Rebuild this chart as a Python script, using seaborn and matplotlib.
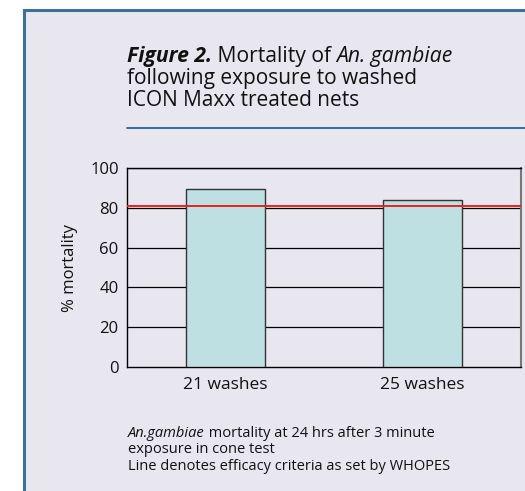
import matplotlib
matplotlib.use("Agg")
import matplotlib.pyplot as plt
import seaborn as sns
import pandas as pd
from matplotlib.patches import Rectangle
from matplotlib.lines import Line2D

categories = ["21 washes", "25 washes"]
mortality = [89.5, 84]
whopes_criterion = 81
yticks = [0, 20, 40, 60, 80, 100]

sns.set_theme(style="white")
plt.rcParams['font.family'] = ['Open Sans', 'DejaVu Sans']

W, H = 525, 491
fig = plt.figure(figsize=(W / 100, H / 100), dpi=100)
fig.patch.set_facecolor("white")

panel_bg = "#e8e7ef"
border = "#3f6f98"
# panel frame
fig.patches.append(Rectangle((24 / W, -0.05), 1.2, (H - 10) / H + 0.05, transform=fig.transFigure,
                             facecolor=panel_bg, edgecolor=border, linewidth=2.2, zorder=-5))

ax = fig.add_axes([127 / W, 1 - 367 / H, (521 - 127) / W, (367 - 168) / H])
ax.set_zorder(2)
ax.set_facecolor(panel_bg)

df = pd.DataFrame({"cat": categories, "val": mortality})
sns.barplot(data=df, x="cat", y="val", ax=ax, color="#bfe0e2", width=0.4,
            edgecolor="#333333", linewidth=1.0, saturation=1, zorder=3)
ax.set_ylim(0, 100)
ax.set_xlim(-0.5, 1.5)
ax.set_yticks(yticks)
ax.set_yticklabels([str(v) for v in yticks], fontsize=12, color="#111111")
for v in yticks[1:]:
    ax.axhline(v, color="black", linewidth=0.9, zorder=1)
ax.axhline(whopes_criterion, color="#e8231f", linewidth=1.4, zorder=4)

ax.set_xticks([0, 1])
ax.set_xticklabels(categories, fontsize=12.5, color="#111111")
ax.set_xticks([-0.5, 0.5, 1.5], minor=True)
ax.tick_params(axis="x", which="major", length=0, pad=7)
ax.tick_params(axis="x", which="minor", length=4, width=1, color="black", direction="out")
ax.tick_params(axis="y", which="major", length=0, pad=6)
ax.set_xlabel("")
ax.set_ylabel("% mortality", fontsize=12, color="#111111", labelpad=9)
for s in ["left", "bottom", "top"]:
    ax.spines[s].set_visible(True)
    ax.spines[s].set_color("black")
    ax.spines[s].set_linewidth(1.0)
ax.spines["right"].set_visible(True)
ax.spines["right"].set_color("#777777")
ax.spines["right"].set_linewidth(1.5)

# title with mixed styles
renderer = fig.canvas.get_renderer()
def place_runs(runs, x_px, y_px, size):
    x = x_px
    for txt, weight, style in runs:
        t = fig.text(x / W, 1 - y_px / H, txt, fontsize=size, fontweight=weight,
                     fontstyle=style, color="#111111", va="baseline", ha="left")
        bb = t.get_window_extent(renderer=renderer)
        x += bb.width
    return x

place_runs([("Figure 2.", "bold", "italic"), (" Mortality of ", "normal", "normal"),
            ("An. gambiae", "normal", "italic")], 127, 62, 15.2)
place_runs([("following exposure to washed", "normal", "normal")], 127, 84, 15.0)
place_runs([("ICON Maxx treated nets", "normal", "normal")], 127, 106, 15.0)

fig.lines.append(Line2D([127 / W, 1.0], [1 - 128 / H, 1 - 128 / H], transform=fig.transFigure,
                        color="#2d5f8c", linewidth=1.3))

place_runs([("An.gambiae", "normal", "italic"), (" mortality at 24 hrs after 3 minute", "normal", "normal")],
           128, 437, 10.5)
place_runs([("exposure in cone test", "normal", "normal")], 128, 453, 10.5)
place_runs([("Line denotes efficacy criteria as set by WHOPES", "normal", "normal")], 128, 470, 10.5)

fig.savefig("out.png", dpi=100)
